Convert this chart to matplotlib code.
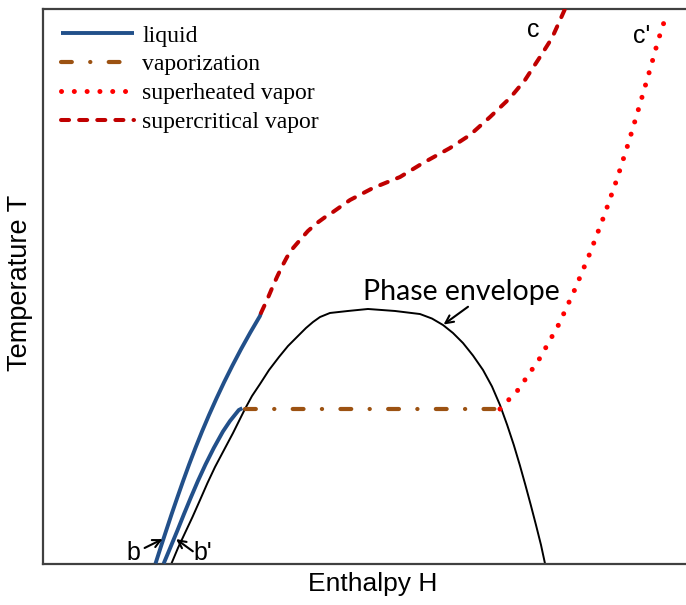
import matplotlib
matplotlib.use("Agg")
import matplotlib.pyplot as plt

# ---- data (arbitrary units: enthalpy H 0-100, temperature T 0-100) ----
liquid_b_H = [17.50, 18.32, 19.16, 20.01, 20.89, 21.79, 22.72, 23.70, 24.73, 25.82,
              26.97, 28.18, 29.46, 30.81, 32.24, 33.74, 33.90]
liquid_b_T = [0.00, 2.98, 5.95, 8.93, 11.90, 14.88, 17.85, 20.83, 23.80, 26.78,
              29.75, 32.73, 35.70, 38.68, 41.66, 44.63, 45.18]

liquid_bp_H = [18.77, 19.84, 20.90, 21.93, 22.99, 24.09, 25.27, 26.56, 27.98, 29.08,
               30.45, 31.00]
liquid_bp_T = [0.00, 2.98, 5.95, 8.93, 11.90, 14.88, 17.85, 20.83, 23.80, 25.70,
               27.68, 28.00]

envelope_H = [19.98, 20.99, 22.08, 23.25, 24.42, 25.58, 26.75, 28.15, 29.55, 30.48,
              31.41, 32.50, 33.75, 35.15, 36.70, 38.10, 39.50, 40.90, 41.99, 43.08,
              44.63, 47.43, 50.54, 54.74, 58.63, 60.49, 62.21, 63.76, 65.32, 66.87,
              68.43, 69.83, 71.07, 72.19, 73.22, 74.15, 75.02, 75.86, 76.67, 77.45,
              78.07]
envelope_T = [0.00, 2.80, 5.50, 8.39, 11.45, 14.52, 17.40, 20.47, 23.53, 25.70,
              27.86, 30.20, 32.37, 34.89, 37.24, 39.22, 40.85, 42.47, 43.55, 44.45,
              45.18, 45.54, 45.90, 45.54, 44.99, 44.18, 43.01, 41.57, 39.76, 37.51,
              34.90, 31.92, 28.58, 24.98, 21.37, 17.76, 14.16, 10.55, 6.94, 3.34,
              0.00]

vapor_H = [31.40, 71.07]
vapor_T = [27.86, 27.86]

superheated_H = [71.07, 73.87, 77.29, 80.25, 82.74, 85.07, 87.25, 89.27, 91.14,
                 92.85, 94.56, 95.64, 96.89]
superheated_T = [27.86, 31.29, 37.06, 43.19, 49.50, 55.99, 62.67, 69.34, 76.19,
                 82.87, 89.72, 94.23, 98.74]

supercritical_H = [33.90, 34.84, 35.60, 36.39, 37.17, 37.95, 38.90, 39.97, 41.20,
                   42.61, 43.85, 45.10, 47.74, 51.32, 55.52, 59.10, 63.30, 66.41,
                   69.52, 72.63, 74.96, 77.29, 79.16, 81.18]
supercritical_T = [45.18, 47.52, 49.60, 51.67, 53.56, 55.27, 56.90, 58.34, 59.96,
                   61.40, 62.45, 63.39, 65.55, 67.72, 69.70, 72.23, 74.93, 77.28,
                   80.52, 83.95, 87.19, 91.34, 94.77, 100.0]

legend_labels = ["liquid", "vaporization", "superheated vapor", "supercritical vapor"]

# ---- figure ----
fig = plt.figure(figsize=(6.86, 6.05), dpi=100)
ax = fig.add_axes([43 / 686, (605 - 563.5) / 605, 643 / 686, 554.5 / 605])
ax.set_xlim(0, 100)
ax.set_ylim(0, 100)

blue = "#22508a"
brown = "#9c5212"
red = "#ff0000"
darkred = "#c00000"

ax.plot(envelope_H, envelope_T, color="black", lw=1.4, zorder=2)

l_liq, = ax.plot(liquid_b_H, liquid_b_T, color=blue, lw=2.8, solid_capstyle="butt",
                 label=legend_labels[0], zorder=3)
ax.plot(liquid_bp_H, liquid_bp_T, color=blue, lw=2.8, solid_capstyle="butt", zorder=3)

l_vap, = ax.plot(vapor_H, vapor_T, color=brown, lw=3.0,
                 linestyle=(0, (2.6, 4.4, 0.05, 4.4)), dash_capstyle="round",
                 label=legend_labels[1], zorder=3)

l_sh, = ax.plot(superheated_H, superheated_T, color=red, lw=3.6,
                linestyle=(0, (0.01, 2.55)), dash_capstyle="round",
                label=legend_labels[2], zorder=3)

l_sc, = ax.plot(supercritical_H, supercritical_T, color=darkred, lw=2.9,
                linestyle=(0, (2.0, 2.5)), dash_capstyle="round",
                label=legend_labels[3], zorder=3)

# spines / ticks
for side in ["left", "top", "bottom"]:
    ax.spines[side].set_color("#404040")
    ax.spines[side].set_linewidth(1.6)
ax.spines["right"].set_visible(False)
ax.set_xticks([])
ax.set_yticks([])

sans = "Liberation Sans"
ax.set_xlabel("Enthalpy H", fontsize=19, family=sans)
ax.xaxis.set_label_coords(0.512, -0.016)
ax.set_ylabel("Temperature T", fontsize=19.5, family=sans)
ax.yaxis.set_label_coords(-0.016, 0.506)

# annotations
arrow_kw = dict(arrowstyle="->", lw=1.5, color="black", mutation_scale=14,
                shrinkA=0, shrinkB=0)
ax.text(14.0, 1.9, "b", fontsize=18, family=sans, ha="center", va="center")
ax.annotate("", xy=(18.6, 4.4), xytext=(15.8, 2.8), arrowprops=arrow_kw)
ax.text(24.8, 1.9, "b'", fontsize=18, family=sans, ha="center", va="center")
ax.annotate("", xy=(20.7, 4.4), xytext=(23.3, 2.2), arrowprops=arrow_kw)
ax.text(76.2, 96.2, "c", fontsize=18, family=sans, ha="center", va="center")
ax.text(93.1, 95.2, "c'", fontsize=18, family=sans, ha="center", va="center")
ax.text(65.0, 49.0, "Phase envelope", fontsize=20.5, family="Lato",
        ha="center", va="center")
ax.annotate("", xy=(62.3, 43.1), xytext=(66.1, 46.3), arrowprops=arrow_kw)

ax.legend(handles=[l_liq, l_vap, l_sh, l_sc], loc="upper left",
          bbox_to_anchor=(0.028, 0.971), frameon=False,
          prop={"family": "Liberation Serif", "size": 17},
          handlelength=3.1, handletextpad=0.33, labelspacing=0.31,
          borderpad=0, borderaxespad=0)

fig.savefig("out.png", dpi=100)
